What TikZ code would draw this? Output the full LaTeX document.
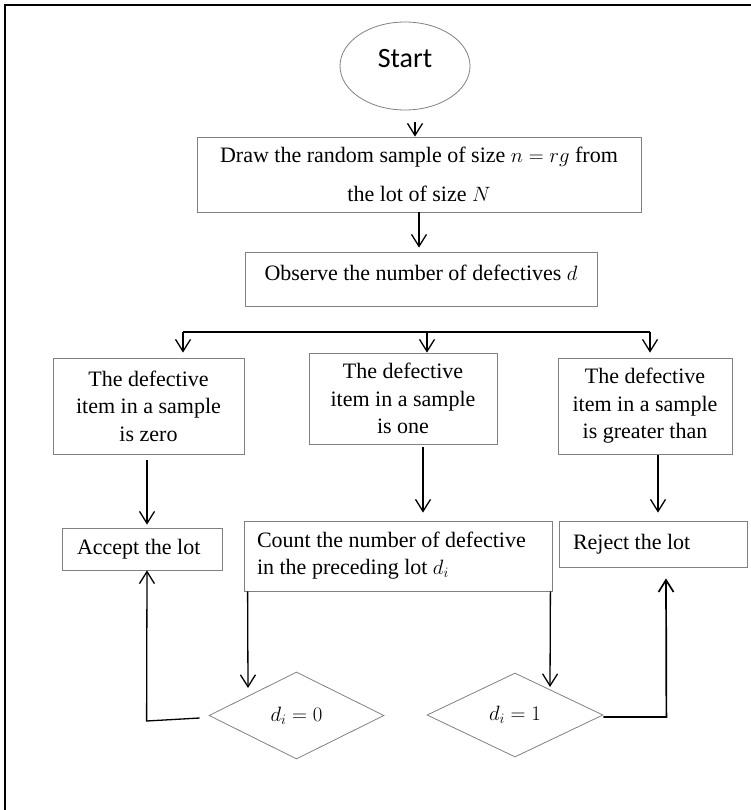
\documentclass[tikz,border=0pt]{standalone}
\usepackage{fontspec}
\setmainfont{Liberation Serif}
\newfontfamily\calibfont{Carlito}
\usetikzlibrary{arrows.meta,shapes.geometric,calc}
\begin{document}
\begin{tikzpicture}[x=1pt,y=-1pt,
  box/.style={draw=black!50, line width=0.8pt, rectangle, inner sep=0pt,
    font=\fontsize{22}{27.5}\selectfont, align=center},
  lbox/.style={box, align=flush left, inner ysep=0pt},
  dia/.style={draw=black!50, line width=0.8pt, diamond, aspect=2, inner sep=0pt,
    font=\fontsize{22}{27.5}\selectfont},
  arr/.style={line width=1.3pt, -{Straight Barb[length=12pt,width=15pt]}},
  bus/.style={line width=2.2pt}]
\useasboundingbox (0,0) rectangle (751,810);
% frame
\draw[line width=1.6pt] (751,5) -- (5,5) -- (5,810);
% start
\node[draw=black!50, line width=0.8pt, ellipse, minimum width=130pt, minimum height=88pt,
  inner sep=0pt, font=\calibfont\fontsize{28}{30}\selectfont,
  text height=18pt, text depth=14pt] (start) at (405,66) {Start};
% boxes
\node[box, minimum width=444pt, minimum height=75pt, font=\fontsize{22}{39}\selectfont]
  (b1) at (419,174.5) {Draw the random sample of size $n = rg$ from\\ the lot of size $N$};
\node[box, minimum width=352pt, minimum height=54pt, text height=15pt, text depth=12pt]
  (b2) at (421,279) {Observe the number of defectives $d$};
\node[box, minimum width=191pt, minimum height=96pt] (L1) at (148.5,406)
  {The defective\\ item in a sample\\ is zero};
\node[box, minimum width=188pt, minimum height=91pt] (M1) at (403,398.5)
  {The defective\\ item in a sample\\ is one};
\node[box, minimum width=174pt, minimum height=96pt] (R1) at (645,406)
  {The defective\\ item in a sample\\ is greater than};
\node[lbox, text width=130pt, inner xsep=15pt, minimum height=42pt] (Acc) at (142,549)
  {Accept the lot};
\node[lbox, text width=282pt, inner xsep=13pt, minimum height=70pt, font=\fontsize{22}{27}\selectfont]
  (Cnt) at (398,556) {Count the number of defective\\ in the preceding lot $d_i$};
\node[lbox, text width=160pt, inner xsep=14pt, minimum height=46pt] (Rej) at (653,544)
  {Reject the lot};
\node[dia, minimum width=175pt, minimum height=87pt] (D0) at (296.5,715.5) {$d_i = 0$};
\node[dia, minimum width=176pt, minimum height=84pt] (D1) at (515,715) {$d_i = 1$};
% connectors
\draw[arr] ([xshift=10pt,yshift=-12pt]start.south) -- ([xshift=-4pt]b1.north);
\draw[arr] (b1.south) -- ([xshift=-2pt,yshift=4pt]b2.north);
\coordinate (busL) at (183,332);
\coordinate (busM) at (427,332);
\coordinate (busR) at (650,332);
\draw[bus] (busL) -- (busR);
\draw[arr] (busL) -- ($(busL |- L1.north)+(0,-5)$);
\draw[arr] (busM) -- (busM |- M1.north);
\draw[arr] (busR) -- ($(busR |- R1.north)+(0,-5)$);
\draw[arr] ([xshift=-1.5pt,yshift=-6pt]L1.south) -- ([xshift=5pt,yshift=3pt]Acc.north);
\draw[arr] ([xshift=20pt,yshift=-3pt]M1.south) -- ([xshift=25pt,yshift=8pt]Cnt.north);
\draw[arr] ([xshift=13pt,yshift=-1pt]R1.south) -- ([xshift=5pt,yshift=8pt]Rej.north);
\draw[arr] ([xshift=4pt]Cnt.south west) -- ([xshift=-48.5pt,yshift=27.5pt]D0.center);
\draw[arr] ([xshift=-2pt]Cnt.south east) -- ([xshift=35pt,yshift=28pt]D1.center);
\draw[arr] ([xshift=-9pt,yshift=-2.5pt]D0.west) -- ++(-53,3) -- ([xshift=5pt]Acc.south);
\draw[arr, line width=1.7pt] ([yshift=-2pt]D1.east) -- ++(63,0) -- ([xshift=13pt,yshift=-11pt]Rej.south);
\end{tikzpicture}
\end{document}
